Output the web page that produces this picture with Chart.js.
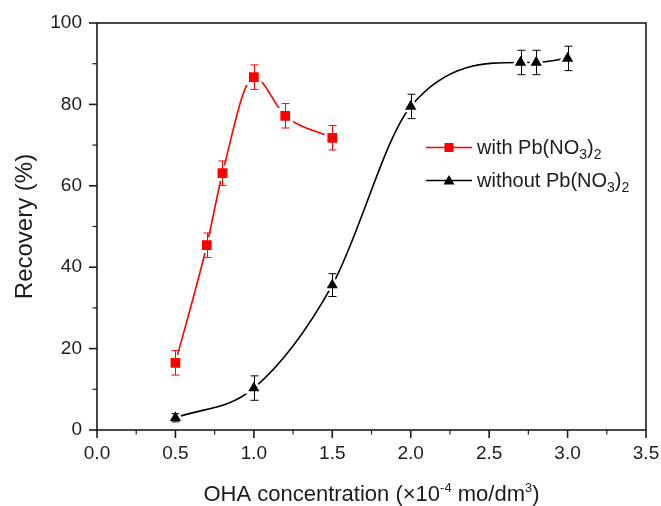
<!DOCTYPE html>
<html>
<head>
<meta charset="utf-8">
<script src="https://cdn.jsdelivr.net/npm/chart.js@4"></script>
<style>
  html, body { margin: 0; padding: 0; background: #fff; }
</style>
</head>
<body>
<canvas id="grafico" width="661" height="506"></canvas>
<script>
// dados
const concWith = [0.5, 0.7, 0.8, 1.0, 1.2, 1.5];
const recWith = [16.5, 45.4, 63.1, 86.7, 77.2, 71.8];
const errWith = [3, 3, 3, 3, 3, 3];

const concWithout = [0.5, 1.0, 1.5, 2.0, 2.7, 2.8, 3.0];
const recWithout = [3.0, 10.3, 35.6, 79.5, 90.3, 90.3, 91.3];
const errWithout = [1, 3, 2.8, 3, 3, 3, 3];

const xTicks = [0.0, 0.5, 1.0, 1.5, 2.0, 2.5, 3.0, 3.5];
const yTicks = [0, 20, 40, 60, 80, 100];
const xMinor = [0.25, 0.75, 1.25, 1.75, 2.25, 2.75, 3.25];
const yMinor = [10, 30, 50, 70, 90];

const red = '#ff0000';
const ink = '#1c1c1c';
const fonte = "'Liberation Sans', Arial, sans-serif";

Chart.defaults.font.family = fonte;
Chart.defaults.color = ink;

const pares = (xs, ys) => xs.map((x, i) => ({ x: x, y: ys[i] }));

// texto com sub/sobrescrito
const drawRich = (ctx, parts, x, y) => {
    let cx = x;
    parts.forEach(p => {
        ctx.font = p[1] + 'px ' + fonte;
        ctx.fillText(p[0], cx, y + p[2]);
        cx += ctx.measureText(p[0]).width;
    });
    return cx - x;
};
const richWidth = (ctx, parts) => parts.reduce((w, p) => {
    ctx.font = p[1] + 'px ' + fonte;
    return w + ctx.measureText(p[0]).width;
}, 0);

const extras = {
    id: 'extras',
    afterDatasetsDraw(chart) {
        const { ctx, scales: { x, y } } = chart;
        chart.data.datasets.forEach(ds => {
            ctx.save();
            ctx.strokeStyle = ds.borderColor;
            ctx.lineWidth = 1;
            ds.data.forEach((p, j) => {
                const e = ds.erros[j];
                const px = Math.round(x.getPixelForValue(p.x)) + 0.5;
                const top = y.getPixelForValue(p.y + e);
                const bot = y.getPixelForValue(p.y - e);
                ctx.beginPath();
                ctx.moveTo(px, top); ctx.lineTo(px, bot);
                ctx.moveTo(px - 4, top); ctx.lineTo(px + 4, top);
                ctx.moveTo(px - 4, bot); ctx.lineTo(px + 4, bot);
                ctx.stroke();
            });
            ctx.restore();
        });
    },
    afterDraw(chart) {
        const { ctx, chartArea: a, scales: { x, y } } = chart;
        ctx.save();
        ctx.strokeStyle = ink;
        // moldura
        ctx.lineWidth = 1.6;
        ctx.strokeRect(a.left, a.top, a.right - a.left, a.bottom - a.top);
        // marcas dos eixos
        const tick = (len, xs, ys) => {
            ctx.lineWidth = len > 5 ? 1.6 : 1.2;
            xs.forEach(v => {
                const px = x.getPixelForValue(v);
                ctx.beginPath(); ctx.moveTo(px, a.bottom); ctx.lineTo(px, a.bottom + len); ctx.stroke();
            });
            ys.forEach(v => {
                const py = y.getPixelForValue(v);
                ctx.beginPath(); ctx.moveTo(a.left, py); ctx.lineTo(a.left - len, py); ctx.stroke();
            });
        };
        tick(8, xTicks, yTicks);
        tick(4.5, xMinor, yMinor);

        // legenda
        ctx.textBaseline = 'alphabetic';
        const linhas = [
            { cor: red, forma: 'rect', y: 147.5, txt: 'with Pb(NO' },
            { cor: '#000', forma: 'tri', y: 180.5, txt: 'without Pb(NO' }
        ];
        linhas.forEach(l => {
            ctx.strokeStyle = l.cor;
            ctx.fillStyle = l.cor;
            ctx.lineWidth = 1.6;
            ctx.beginPath(); ctx.moveTo(426, l.y); ctx.lineTo(472, l.y); ctx.stroke();
            ctx.beginPath();
            if (l.forma === 'rect') {
                ctx.rect(444.5, l.y - 4.5, 9, 9);
            } else {
                ctx.moveTo(449, l.y - 5.5); ctx.lineTo(454.5, l.y + 4); ctx.lineTo(443.5, l.y + 4); ctx.closePath();
            }
            ctx.fill();
            ctx.fillStyle = ink;
            drawRich(ctx, [[l.txt, 20, 0], ['3', 14, 5], [')', 20, 0], ['2', 14, 5]], 477, l.y + 6.5);
        });

        // título do eixo x
        ctx.fillStyle = ink;
        const titulo = [['OHA concentration (\u00d710', 22, 0], ['-4', 13, -9], [' mo/dm', 22, 0], ['3', 13, -9], [')', 22, 0]];
        const w = richWidth(ctx, titulo);
        drawRich(ctx, titulo, (a.left + a.right) / 2 - w / 2, 500.5);
        ctx.restore();
    }
};

const ctx = document.getElementById('grafico').getContext('2d');
const grafico = new Chart(ctx, {
    type: 'line',
    data: {
        datasets: [{
            label: 'with Pb(NO3)2',
            data: pares(concWith, recWith),
            erros: errWith,
            borderColor: red,
            backgroundColor: red,
            borderWidth: 1.6,
            cubicInterpolationMode: 'monotone',
            pointStyle: 'rect',
            pointRadius: 9,
            pointBorderWidth: 3,
            pointBorderColor: '#fff',
            pointBackgroundColor: red
        },
        {
            label: 'without Pb(NO3)2',
            data: pares(concWithout, recWithout),
            erros: errWithout,
            borderColor: '#000',
            backgroundColor: '#000',
            borderWidth: 1.6,
            cubicInterpolationMode: 'monotone',
            pointStyle: 'triangle',
            pointRadius: 9,
            pointBorderWidth: 2.5,
            pointBorderColor: '#fff',
            pointBackgroundColor: '#000'
        }]
    },
    options: {
        responsive: false,
        animation: false,
        layout: {
            padding: { top: 23, right: 15, left: 0, bottom: 0 }
        },
        plugins: {
            legend: { display: false },
            tooltip: { enabled: false }
        },
        scales: {
            x: {
                type: 'linear',
                min: 0,
                max: 3.5,
                afterBuildTicks: s => { s.ticks = xTicks.map(v => ({ value: v })); },
                afterFit: s => { s.height = 76; s.paddingLeft = 0; s.paddingRight = 0; },
                ticks: {
                    callback: v => v.toFixed(1),
                    font: { size: 19 },
                    padding: 12,
                    maxRotation: 0
                },
                grid: { drawOnChartArea: false, drawTicks: false },
                border: { display: false }
            },
            y: {
                min: 0,
                max: 100,
                afterBuildTicks: s => { s.ticks = yTicks.map(v => ({ value: v })); },
                afterFit: s => { s.width = 97; s.paddingTop = 0; s.paddingBottom = 0; },
                ticks: {
                    font: { size: 19 },
                    padding: 15
                },
                grid: { drawOnChartArea: false, drawTicks: false },
                border: { display: false },
                title: {
                    display: true,
                    text: 'Recovery (%)',
                    font: { size: 24 },
                    padding: { top: 11, bottom: 0 }
                }
            }
        }
    },
    plugins: [extras]
});
</script>
</body>
</html>
